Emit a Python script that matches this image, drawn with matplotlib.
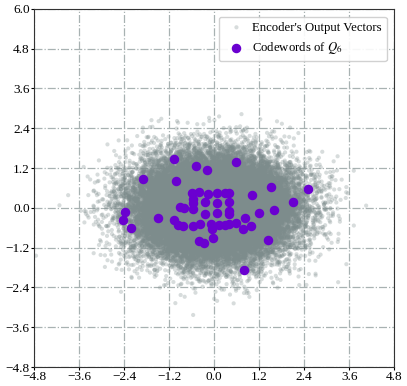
import numpy as np
import matplotlib.pyplot as plt

plt.rcParams['font.family'] = ['Liberation Serif', 'DejaVu Serif']
plt.rcParams['mathtext.fontset'] = 'stix'

# codewords of Q_6
cw_x = [-1.08, -0.49, -0.20, 0.59, -1.89, -1.01, -0.59, -0.39, -0.15, 0.08,
        0.28, 0.41, 1.01, 1.52, 2.51, -0.56, -0.25, 0.07, 0.41, 2.11,
        -0.56, -0.90, -0.81, -0.56, -0.23, 0.09, 0.40, 0.40, 1.21, 1.61,
        -2.38, -2.43, -2.21, -1.49, -1.06, -0.97, -0.84, -0.56, -0.37, -0.07,
        0.12, 0.28, 0.41, 0.59, -0.06, 0.77, 0.83, 0.98, -0.03, -0.41,
        -0.28, 1.45, 0.80]
cw_y = [1.47, 1.26, 1.13, 1.37, 0.86, 0.82, 0.44, 0.47, 0.42, 0.45,
        0.46, 0.44, 0.39, 0.62, 0.58, 0.26, 0.17, 0.16, 0.17, 0.19,
        0.14, 0.02, 0.00, -0.04, -0.18, -0.14, -0.08, -0.18, -0.16, -0.06,
        -0.13, -0.36, -0.62, -0.29, -0.38, -0.51, -0.55, -0.54, -0.50, -0.48,
        -0.51, -0.51, -0.48, -0.46, -0.64, -0.64, -0.29, -0.54, -0.91, -1.01,
        -1.05, -0.96, -1.88]

n_vec = 40000
std_x = 1.0
std_y = 0.74
rng = np.random.default_rng(6)
enc = rng.normal(0, 1, (n_vec, 2)) * [std_x, std_y]

ticks_x = np.arange(-4.8, 4.81, 1.2)
ticks_y = np.arange(-4.8, 6.01, 1.2)

fig = plt.figure(figsize=(4.07, 3.86), dpi=100)
ax = fig.add_axes([0.0835, 0.049, 0.885, 0.928])

ax.scatter(enc[:, 0], enc[:, 1], s=9, color='#7d8c8c', alpha=0.3,
           edgecolors='none', label="Encoder's Output Vectors", zorder=2)
ax.scatter(cw_x, cw_y, s=34, color='#6a00d0', label='Codewords of $Q_6$', zorder=3)

ax.set_xlim(-4.8, 4.8)
ax.set_ylim(-4.8, 6.0)
ax.set_xticks(ticks_x)
ax.set_yticks(ticks_y)
ax.set_xticklabels([f'{t:.1f}'.replace('-', '\u2212') for t in ticks_x])
ax.set_yticklabels([f'{t:.1f}'.replace('-', '\u2212') for t in ticks_y])
ax.tick_params(labelsize=9.5, length=2, pad=1)
for sp in ax.spines.values():
    sp.set_color('#333333')
ax.grid(True, linestyle='-.', color='#a8b2b2', linewidth=0.9, zorder=0)
ax.set_axisbelow(True)

ax.legend(loc='upper right', fontsize=9.2, framealpha=0.9, handletextpad=0.2,
          borderaxespad=0.6)

fig.savefig('out.png', dpi=100)
